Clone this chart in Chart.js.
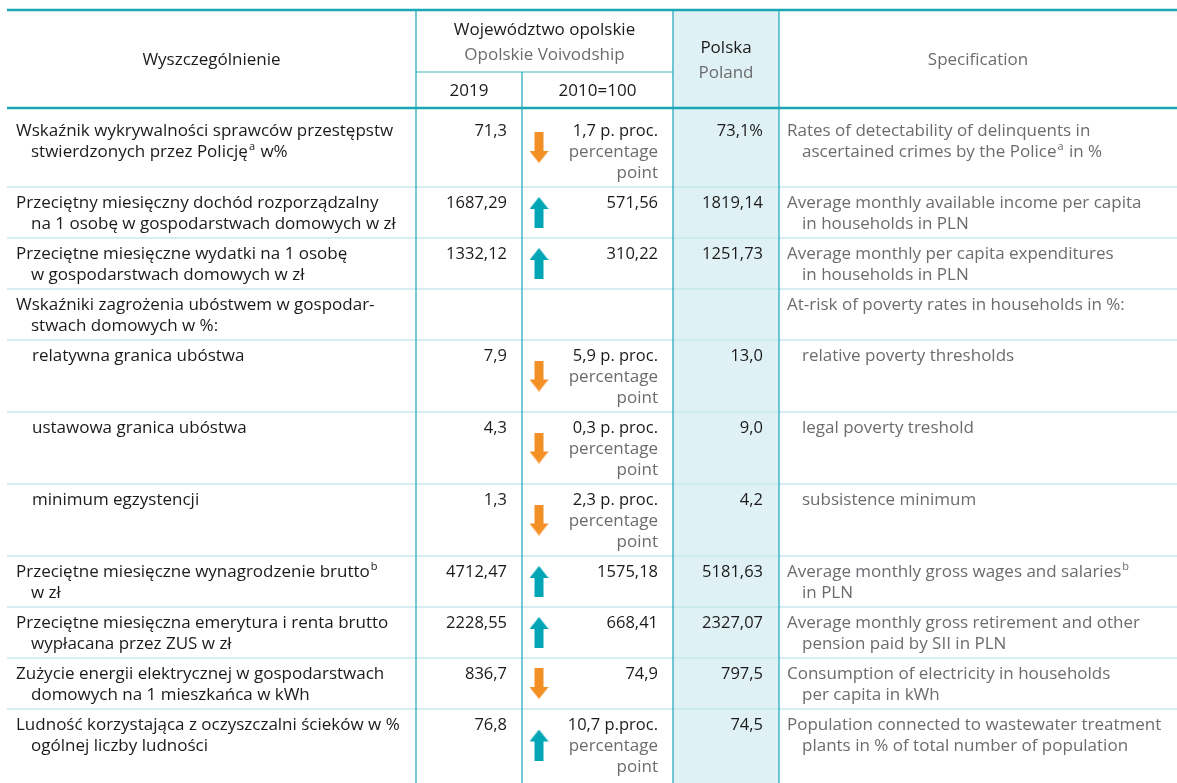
<!DOCTYPE html>
<html>
<head>
<meta charset="utf-8">
<script src="https://cdn.jsdelivr.net/npm/chart.js@4.4.1/dist/chart.umd.min.js"></script>
<style>
  html, body { margin: 0; padding: 0; background: #fff; }
</style>
</head>
<body>
<canvas id="tableChart" width="1177" height="783"></canvas>
<script>
// Table content

const headerPl = ["Wyszczególnienie", "Województwo opolskie", "2019", "2010=100", "Polska"];
const headerEn = ["Specification", "Opolskie Voivodship", "Poland"];

const rowLabelsPl = [
  ["Wskaźnik wykrywalności sprawców przestępstw", "stwierdzonych przez Policję^a w%"],
  ["Przeciętny miesięczny dochód rozporządzalny", "na 1 osobę w gospodarstwach domowych w zł"],
  ["Przeciętne miesięczne wydatki na 1 osobę", "w gospodarstwach domowych w zł"],
  ["Wskaźniki zagrożenia ubóstwem w gospodar-", "stwach domowych w %:"],
  ["relatywna granica ubóstwa"],
  ["ustawowa granica ubóstwa"],
  ["minimum egzystencji"],
  ["Przeciętne miesięczne wynagrodzenie brutto^b", "w zł"],
  ["Przeciętne miesięczna emerytura i renta brutto", "wypłacana przez ZUS w zł"],
  ["Zużycie energii elektrycznej w gospodarstwach", "domowych na 1 mieszkańca w kWh"],
  ["Ludność korzystająca z oczyszczalni ścieków w %", "ogólnej liczby ludności"]
];
const rowLabelsEn = [
  ["Rates of detectability of delinquents in", "ascertained crimes by the Police^a in %"],
  ["Average monthly available income per capita", "in households in PLN"],
  ["Average monthly per capita expenditures", "in households in PLN"],
  ["At-risk of poverty rates in households in %:"],
  ["relative poverty thresholds"],
  ["legal poverty treshold"],
  ["subsistence minimum"],
  ["Average monthly gross wages and salaries^b", "in PLN"],
  ["Average monthly gross retirement and other", "pension paid by SII in PLN"],
  ["Consumption of electricity in households", "per capita in kWh"],
  ["Population connected to wastewater treatment", "plants in % of total number of population"]
];
const subItem = [false, false, false, false, true, true, true, false, false, false, false];

const values2019 = ["71,3", "1687,29", "1332,12", "", "7,9", "4,3", "1,3", "4712,47", "2228,55", "836,7", "76,8"];
const change2010 = ["1,7 p. proc.", "571,56", "310,22", "", "5,9 p. proc.", "0,3 p. proc.", "2,3 p. proc.", "1575,18", "668,41", "74,9", "10,7 p.proc."];
const inPercentagePoints = [true, false, false, false, true, true, true, false, false, false, true];
const trend = ["down", "up", "up", null, "down", "down", "down", "up", "up", "down", "up"];
const valuesPoland = ["73,1%", "1819,14", "1251,73", "", "13,0", "9,0", "4,2", "5181,63", "2327,07", "797,5", "74,5"];

// Layout / style
const W = 1177, H = 783;
const colEdges = [7, 416, 522, 673, 779, W];
const headTop = 10, headSub = 72, bodyTop = 108;
const lineH = 21;
const fontSize = 17, numSize = 16.5;
const fontFam = '"Open Sans", "Noto Sans", sans-serif';
const dark = "#1c1a1b", grey = "#6b6c6f";
const teal = "#1aa6b7", tealLight = "#c6e8ee", polskaBg = "#dff1f4";
const upColor = "#00a6b6", downColor = "#f39025";

// row heights follow the number of text lines in the row
const rowLines = rowLabelsPl.map((r, i) =>
  Math.max(r.length, rowLabelsEn[i].length, inPercentagePoints[i] ? 3 : 1));
const rowTops = [];
const rowHeights = [];
let acc = bodyTop;
rowLines.forEach((n, i) => {
  const h = 9 + lineH * n + (i === 0 ? 7 : 0);
  rowTops.push(acc);
  rowHeights.push(h);
  acc += h;
});
const firstLine = i => rowTops[i] + 6 + (i === 0 ? 7 : 0) + lineH / 2;

function makeArrow(color, up) {
  const c = document.createElement("canvas");
  c.width = 19; c.height = 31;
  const g = c.getContext("2d");
  g.fillStyle = color;
  g.beginPath();
  if (up) {
    g.moveTo(9.5, 0); g.lineTo(19, 12); g.lineTo(14, 12); g.lineTo(14, 31);
    g.lineTo(5, 31); g.lineTo(5, 12); g.lineTo(0, 12);
  } else {
    g.moveTo(9.5, 31); g.lineTo(19, 19); g.lineTo(14, 19); g.lineTo(14, 0);
    g.lineTo(5, 0); g.lineTo(5, 19); g.lineTo(0, 19);
  }
  g.closePath();
  g.fill();
  return c;
}

const arrowX = colEdges[2] + 17;
const arrowPoints = dir => trend
  .map((t, i) => t === dir ? { x: arrowX, y: rowTops[i] + rowHeights[i] / 2 } : null)
  .filter(p => p);

function drawRich(ctx, text, x, y) {
  const parts = text.split(/\^(.)/);
  let cx = x;
  parts.forEach((p, k) => {
    if (!p) return;
    if (k % 2) {
      ctx.font = Math.round(fontSize * 0.62) + "px " + fontFam;
      ctx.fillText(p, cx + 1, y - fontSize * 0.33);
      cx += ctx.measureText(p).width + 2;
    } else {
      ctx.font = fontSize + "px " + fontFam;
      ctx.fillText(p, cx, y);
      cx += ctx.measureText(p).width;
    }
  });
}

const tablePlugin = {
  id: "tableDraw",
  beforeDatasetsDraw(chart) {
    const ctx = chart.ctx;
    const xs = chart.scales.x, ys = chart.scales.y;
    const X = v => xs.getPixelForValue(v), Y = v => ys.getPixelForValue(v);
    ctx.save();

    // Polska column background
    ctx.fillStyle = polskaBg;
    ctx.fillRect(X(colEdges[3]), Y(headTop), X(colEdges[4]) - X(colEdges[3]), Y(H) - Y(headTop));

    // row separators
    ctx.strokeStyle = tealLight;
    ctx.lineWidth = 1.5;
    rowTops.slice(1).forEach(t => {
      ctx.beginPath(); ctx.moveTo(X(colEdges[0]), Y(t)); ctx.lineTo(X(W), Y(t)); ctx.stroke();
    });

    // header sub line
    ctx.strokeStyle = "#7fcfd9";
    ctx.beginPath(); ctx.moveTo(X(colEdges[1]), Y(headSub)); ctx.lineTo(X(colEdges[3]), Y(headSub)); ctx.stroke();

    // vertical lines
    ctx.strokeStyle = teal;
    ctx.lineWidth = 1.2;
    [1, 3, 4].forEach(k => {
      ctx.beginPath(); ctx.moveTo(X(colEdges[k]), Y(headTop)); ctx.lineTo(X(colEdges[k]), Y(H)); ctx.stroke();
    });
    ctx.beginPath(); ctx.moveTo(X(colEdges[2]), Y(headSub)); ctx.lineTo(X(colEdges[2]), Y(H)); ctx.stroke();

    // thick rules
    ctx.lineWidth = 2.6;
    [headTop, bodyTop].forEach(t => {
      ctx.beginPath(); ctx.moveTo(X(colEdges[0]), Y(t)); ctx.lineTo(X(W), Y(t)); ctx.stroke();
    });

    // header text
    ctx.font = fontSize + "px " + fontFam;
    ctx.textBaseline = "middle";
    ctx.textAlign = "center";
    const mid = (a, b) => (X(colEdges[a]) + X(colEdges[b])) / 2;
    ctx.fillStyle = dark;
    ctx.fillText(headerPl[0], mid(0, 1), Y(60));
    ctx.fillText(headerPl[1], mid(1, 3), Y(30));
    ctx.fillText(headerPl[2], mid(1, 2), Y(91));
    ctx.fillText(headerPl[3], mid(2, 3), Y(91));
    ctx.fillText(headerPl[4], mid(3, 4), Y(48));
    ctx.fillStyle = grey;
    ctx.fillText(headerEn[0], mid(4, 5), Y(60));
    ctx.fillText(headerEn[1], mid(1, 3), Y(55));
    ctx.fillText(headerEn[2], mid(3, 4), Y(73));

    // body text
    rowLabelsPl.forEach((lines, i) => {
      const y0 = firstLine(i);
      ctx.textAlign = "left";
      ctx.fillStyle = dark;
      lines.forEach((s, j) => {
        const x = subItem[i] ? 32 : (j === 0 ? 16 : 31);
        drawRich(ctx, s, X(x), Y(y0 + j * lineH));
      });
      ctx.fillStyle = grey;
      rowLabelsEn[i].forEach((s, j) => {
        const x = subItem[i] ? 802 : (j === 0 ? 787 : 802);
        drawRich(ctx, s, X(x), Y(y0 + j * lineH));
      });

      ctx.font = numSize + "px " + fontFam;
      ctx.textAlign = "right";
      ctx.fillStyle = dark;
      ctx.fillText(values2019[i], X(colEdges[2] - 15), Y(y0));
      ctx.fillText(change2010[i], X(colEdges[3] - 15), Y(y0));
      ctx.fillText(valuesPoland[i], X(colEdges[4] - 16), Y(y0));
      if (inPercentagePoints[i]) {
        ctx.font = fontSize + "px " + fontFam;
        ctx.fillStyle = grey;
        ctx.fillText("percentage", X(colEdges[3] - 15), Y(y0 + lineH));
        ctx.fillText("point", X(colEdges[3] - 15), Y(y0 + 2 * lineH));
      }
    });
    ctx.restore();
  }
};

new Chart(document.getElementById("tableChart").getContext("2d"), {
  type: "scatter",
  data: {
    datasets: [
      {
        label: "up",
        data: arrowPoints("up"),
        pointStyle: makeArrow(upColor, true),
      },
      {
        label: "down",
        data: arrowPoints("down"),
        pointStyle: makeArrow(downColor, false),
      },
    ],
  },
  options: {
    responsive: false,
    animation: false,
    events: [],
    layout: { padding: 0, autoPadding: false },
    scales: {
      x: { type: "linear", min: 0, max: W, display: false },
      y: { type: "linear", min: 0, max: H, reverse: true, display: false },
    },
    plugins: {
      legend: { display: false },
      tooltip: { enabled: false },
    },
  },
  plugins: [tablePlugin],
});
</script>
</body>
</html>
